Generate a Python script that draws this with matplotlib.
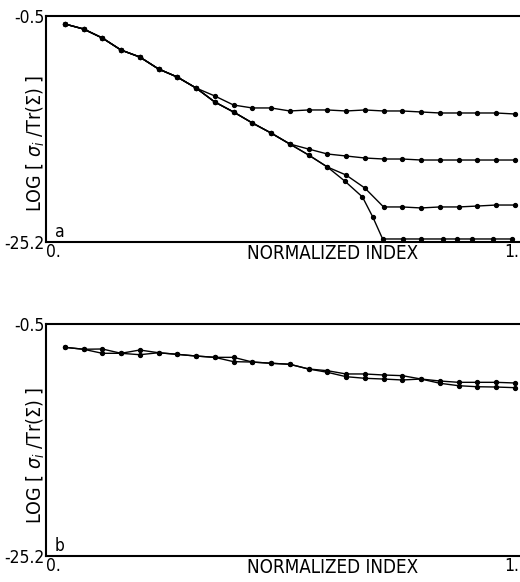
import matplotlib
matplotlib.use("Agg")
import matplotlib.pyplot as plt
import matplotlib.transforms as mtransforms
from matplotlib import font_manager

# narrow face if we have one, else condensed DejaVu
_names = set(f.name for f in font_manager.fontManager.ttflist)
if 'Liberation Sans Narrow' in _names:
    plt.rcParams['font.family'] = ['Liberation Sans Narrow', 'DejaVu Sans']
else:
    plt.rcParams['font.family'] = ['DejaVu Sans']
plt.rcParams['font.stretch'] = 'condensed'
plt.rcParams['mathtext.fontset'] = 'dejavusans'

# normalized index of the eigenvalues
x_full = [0.04, 0.08, 0.12, 0.16, 0.20, 0.24, 0.28, 0.32, 0.36, 0.40, 0.44, 0.48, 0.52,
          0.56, 0.60, 0.64, 0.68, 0.72, 0.76, 0.80, 0.84, 0.88, 0.92, 0.96, 1.00]

# panel a: four curves, shared start
a_common = [-1.37, -1.92, -2.90, -4.22, -4.98, -6.29, -7.17, -8.37]
a_curve1 = a_common + [-9.24, -10.23, -10.55, -10.55, -10.88, -10.77, -10.77, -10.88, -10.77,
                       -10.88, -10.88, -10.99, -11.10, -11.10, -11.10, -11.10, -11.21]
a_lower = a_common + [-9.90, -10.99, -12.19, -13.29, -14.49]
a_curve2 = a_lower + [-15.04, -15.58, -15.80, -16.02, -16.13, -16.13, -16.24,
                      -16.24, -16.24, -16.24, -16.24, -16.24]
a_curve3 = a_lower + [-15.69, -17.00, -17.88, -19.30, -21.37, -21.37, -21.48,
                      -21.37, -21.37, -21.27, -21.16, -21.16]
x_curve4 = x_full[:15] + [0.637, 0.675, 0.697, 0.718, 0.761, 0.799, 0.846, 0.876, 0.908, 0.953, 0.994]
a_curve4 = a_lower + [-15.69, -17.00, -18.53, -20.28, -22.47, -24.87, -24.87, -24.87,
                      -24.87, -24.87, -24.87, -24.87, -24.87]

# panel b: two curves
b_curve1 = [-2.98, -3.19, -3.16, -3.62, -3.77, -3.56, -3.73, -3.91, -4.05, -4.05, -4.55, -4.68, -4.79,
            -5.29, -5.47, -5.82, -5.82, -5.93, -6.00, -6.36, -6.57, -6.71, -6.71, -6.71, -6.78]
b_curve2 = [-2.98, -3.19, -3.62, -3.62, -3.27, -3.56, -3.73, -3.91, -4.05, -4.51, -4.55, -4.68, -4.79,
            -5.29, -5.64, -6.11, -6.28, -6.36, -6.46, -6.36, -6.81, -7.07, -7.18, -7.21, -7.28]

y_ticks = [-25.2, -0.5]
y_ticklabels = ['-25.2', '-0.5']
x_ticks = [0, 1]
x_ticklabels = ['0.', '1.']

fig = plt.figure(figsize=(5.2, 5.82), dpi=100)
ax_a = fig.add_axes([0.0885, 0.5842, 0.9115, 0.3883])
ax_b = fig.add_axes([0.0885, 0.0447, 0.9115, 0.3986])


def style_axes(ax, tag):
    ax.set_xlim(0, 1.011)
    ax.set_ylim(-25.2, -0.5)
    for s in ['left', 'top', 'bottom']:
        ax.spines[s].set_linewidth(1.5)
    ax.spines['right'].set_visible(False)
    ax.set_yticks(y_ticks)
    ax.set_yticklabels(y_ticklabels, fontsize=12.5)
    ax.set_xticks(x_ticks)
    ax.set_xticklabels(x_ticklabels, fontsize=12.5)
    ax.tick_params(length=0, pad=1)
    xl = ax.get_xticklabels()
    xl[0].set_ha('left')
    xl[1].set_ha('right')
    # nudge "1." a little right so it sits under the end point
    xl[1].set_transform(xl[1].get_transform() +
                        mtransforms.ScaledTranslation(3 / 72, 0, fig.dpi_scale_trans))
    ax.text(0.605, -0.049, 'NORMALIZED INDEX', transform=ax.transAxes,
            ha='center', va='center', fontsize=13.5)
    ax.text(0.018, 0.045, tag, transform=ax.transAxes, ha='left', va='center', fontsize=12.5)
    ax.text(-0.021, 0.435, r'LOG [ $\sigma_i$ /Tr($\Sigma$) ]', transform=ax.transAxes,
            rotation=90, ha='center', va='center', fontsize=14)


kw = dict(color='black', lw=1.0, marker='o', ms=2.8)
for ys in [a_curve1, a_curve2, a_curve3]:
    ax_a.plot(x_full, ys, **kw)
ax_a.plot(x_curve4, a_curve4, **kw)
style_axes(ax_a, 'a')

ax_b.plot(x_full, b_curve1, **kw)
ax_b.plot(x_full, b_curve2, **kw)
style_axes(ax_b, 'b')

fig.savefig('out.png', dpi=100)
